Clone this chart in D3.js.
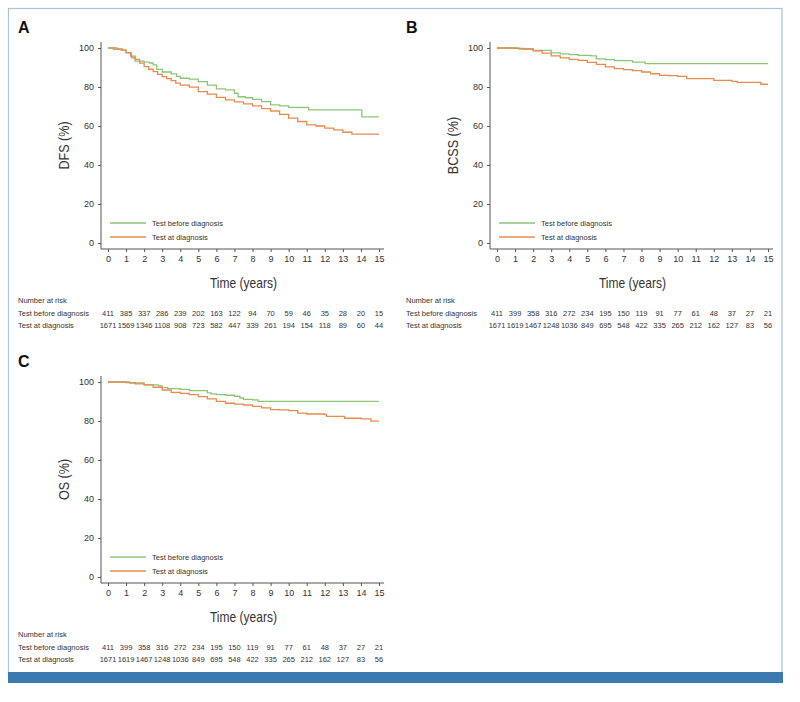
<!DOCTYPE html>
<html><head><meta charset="utf-8">
<script src="https://cdn.jsdelivr.net/npm/d3@7"></script>
<style>
body{margin:0;background:#fff;}
text{font-family:"Liberation Sans",Arial,sans-serif;fill:#333;}
</style></head>
<body><svg id="chart" width="800" height="702"></svg>
<script>
// ---------- DATA ----------
const yearTicks = [0,1,2,3,4,5,6,7,8,9,10,11,12,13,14,15];
const yTicks = [0,20,40,60,80,100];
const seriesNames = ["Test before diagnosis","Test at diagnosis"];

// Panel A: DFS
const dfsBeforeT = [0,0.3,0.7,1,1.3,1.5,2,2.3,2.5,2.7,3,3.5,3.8,4,4.5,5,5.5,6,6.5,7,7.2,7.6,8,8.5,9,9.5,10,11.1,14.05,15];
const dfsBeforeS = [100,99.3,99,97.5,95,93.3,92.8,92.3,91.3,89,87.7,86.7,85.5,84.5,84,82.8,81,79,78.5,76.8,75,74.5,73.7,72.5,70.8,70.3,69.6,68.3,64.7,64.7];
const dfsAtT = [0,0.5,0.8,1,1.25,1.5,1.75,2,2.25,2.5,2.75,3,3.25,3.5,3.75,4,4.5,5,5.5,6,6.5,7,7.5,8,8.5,9,9.5,10,10.5,11,11.5,12,12.5,13,13.5,15];
const dfsAtS = [100,99.5,98.8,97.6,95.8,94.2,92.2,90.4,89.1,87.9,86.5,85.3,84.3,83.3,82,81,79.9,77.6,76.3,74.7,73.4,72.4,71.3,70.3,68.9,67.7,66,64,62.3,60.6,60,58.9,58,56.8,55.8,55.8];

// Panel B: BCSS
const bcssBeforeT = [0,1.2,2,3,3.5,4,4.5,5.2,5.5,6,6.5,7.5,8.2,15];
const bcssBeforeS = [100,99.5,98.8,97.5,97,96.6,96.2,96,94.4,94,93.5,92.8,92,92];
const bcssAtT = [0,1,1.5,2,2.5,3,3.5,4,4.5,5,5.5,6,6.5,7,7.5,8,8.5,9,9.5,10,10.5,12,13,13.3,14.6,15];
const bcssAtS = [100,99.8,99.5,98.6,97.4,96,94.9,94.2,93.7,92.6,91.6,90.3,89.4,88.9,88.4,87.7,86.8,86,85.8,85.5,84.3,83.4,82.9,82.4,81.4,81.4];

// Panel C: OS
const osBeforeT = [0,1.2,2,2.8,3,3.3,4,4.5,5.5,5.7,6,6.5,7,7.3,7.5,8,8.3,15];
const osBeforeS = [100,99.5,98.5,98,97.1,96.6,96.2,95.6,94.4,93.9,93.5,93.2,92.7,91.8,91.1,90.8,90.1,90.1];
const osAtT = [0,1,1.5,2,2.5,3,3.5,4,4.5,5,5.5,6,6.5,7,7.5,8,8.5,9,9.5,10,10.5,11,12,12.1,13.1,14,14.55,15];
const osAtS = [100,99.7,99,98.5,97.3,95.9,94.7,94.2,93.5,92.5,91.3,90.1,89.1,88.7,88.2,87.5,86.7,85.8,85.7,85.3,84,83.6,83.3,82.4,81.4,81.1,79.9,79.9];

// Numbers at risk
const riskDfsBefore = [411,385,337,286,239,202,163,122,94,70,59,46,35,28,20,15];
const riskDfsAt = [1671,1569,1346,1108,908,723,582,447,339,261,194,154,118,89,60,44];
const riskBcssBefore = [411,399,358,316,272,234,195,150,119,91,77,61,48,37,27,21];
const riskBcssAt = [1671,1619,1467,1248,1036,849,695,548,422,335,265,212,162,127,83,56];
const riskOsBefore = [411,399,358,316,272,234,195,150,119,91,77,61,48,37,27,21];
const riskOsAt = [1671,1619,1467,1248,1036,849,695,548,422,335,265,212,162,127,83,56];

const colors = ["#8cc57a","#e48c52"];

// ---------- DRAW ----------
const svg = d3.select("#chart");
// frame
svg.append("rect").attr("x",8.5).attr("y",8.5).attr("width",773.5).attr("height",668)
  .attr("fill","#fff").attr("stroke","#a9c4dc").attr("stroke-width",1.2);
svg.append("rect").attr("x",8).attr("y",672).attr("width",775).attr("height",11).attr("fill","#3b79af");

const zip = (T,S)=>T.map((t,i)=>({t:t,s:S[i]}));

function panel(cfg){
  const g = svg.append("g");
  const x = d3.scaleLinear().domain([0,15]).range([cfg.x0, cfg.x0+271]);
  const y = d3.scaleLinear().domain([0,100]).range([cfg.y0, cfg.y0-195]);
  const axisY = cfg.y0+6;
  const axisX = cfg.x0-7;

  // letter
  g.append("text").attr("x",cfg.letterX).attr("y",cfg.y0-210).attr("font-size",16).attr("font-weight","bold")
    .style("fill","#111").text(cfg.letter);

  // x axis
  const xa = g.append("g").attr("transform",`translate(0,${axisY})`)
    .call(d3.axisBottom(x).tickValues(yearTicks).tickSize(3).tickPadding(4).tickSizeOuter(0));
  xa.select(".domain").attr("d",`M${axisX},0H${cfg.x0+276}`);
  // y axis
  const ya = g.append("g").attr("transform",`translate(${axisX},0)`)
    .call(d3.axisLeft(y).tickValues(yTicks).tickSize(3).tickPadding(4).tickSizeOuter(0));
  ya.select(".domain").attr("d",`M0,${cfg.y0-201}V${axisY}`);
  [xa,ya].forEach(a=>{
    a.selectAll("path,line").attr("stroke","#555").attr("stroke-width",1);
    a.selectAll("text").attr("font-size",9).style("fill","#333").attr("font-family","Liberation Sans, Arial, sans-serif");
  });

  // titles (condensed look)
  g.append("text").attr("transform",`translate(${x(7.5)},${axisY+39}) scale(0.86,1)`).attr("text-anchor","middle")
    .attr("font-size",14).text("Time (years)");
  g.append("text").attr("transform",`translate(${cfg.x0-39},${y(50)}) rotate(-90) scale(0.9,1)`)
    .attr("text-anchor","middle").attr("font-size",14).text(cfg.ylab);

  // curves
  const line = d3.line().x(d=>x(d.t)).y(d=>y(d.s)).curve(d3.curveStepAfter);
  cfg.series.forEach((s,i)=>{
    g.append("path").datum(s).attr("d",line).attr("fill","none").attr("stroke",colors[i]).attr("stroke-width",1.3);
  });

  // legend
  seriesNames.forEach((n,i)=>{
    const ly = cfg.y0-20+i*14;
    g.append("line").attr("x1",x(0)+2).attr("x2",x(0)+38).attr("y1",ly).attr("y2",ly)
      .attr("stroke",colors[i]).attr("stroke-width",1.3);
    g.append("text").attr("x",x(0)+44).attr("y",ly+2.5).attr("font-size",7.5).text(n);
  });

  // risk table
  const rx = cfg.letterX;
  g.append("text").attr("x",rx).attr("y",axisY+54).attr("font-size",7.5).text("Number at risk");
  cfg.risk.forEach((r,i)=>{
    const ry = axisY+67+i*12;
    g.append("text").attr("x",rx).attr("y",ry).attr("font-size",7.5).text(seriesNames[i]);
    g.selectAll(null).data(r).enter().append("text")
      .attr("x",(d,j)=>x(yearTicks[j])).attr("y",ry).attr("text-anchor","middle")
      .attr("font-size",7.5).text(d=>d);
  });
}

panel({letter:"A",letterX:18,x0:108,y0:243,ylab:"DFS (%)",
  series:[zip(dfsBeforeT,dfsBeforeS),zip(dfsAtT,dfsAtS)], risk:[riskDfsBefore,riskDfsAt]});
panel({letter:"B",letterX:406,x0:497,y0:243,ylab:"BCSS (%)",
  series:[zip(bcssBeforeT,bcssBeforeS),zip(bcssAtT,bcssAtS)], risk:[riskBcssBefore,riskBcssAt]});
panel({letter:"C",letterX:18,x0:108,y0:577,ylab:"OS (%)",
  series:[zip(osBeforeT,osBeforeS),zip(osAtT,osAtS)], risk:[riskOsBefore,riskOsAt]});
</script></body></html>
